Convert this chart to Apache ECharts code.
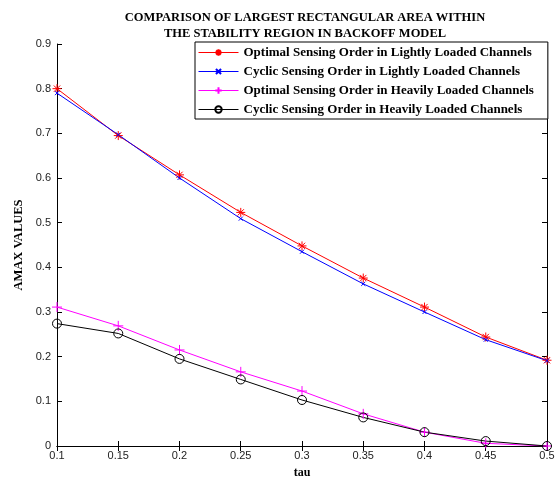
<!DOCTYPE html>
<html><head><meta charset="utf-8">
<script src="https://cdn.jsdelivr.net/npm/echarts@6/dist/echarts.min.js"></script>
<style>html,body{margin:0;padding:0;background:#fff}#c{width:560px;height:484px}</style>
</head><body><div id="c"></div>
<script>
var tau = [0.1, 0.15, 0.2, 0.25, 0.3, 0.35, 0.4, 0.45, 0.5];
var optLight = [0.800, 0.695, 0.607, 0.523, 0.448, 0.376, 0.311, 0.244, 0.192];
var cycLight = [0.790, 0.697, 0.600, 0.509, 0.435, 0.363, 0.300, 0.238, 0.191];
var optHeavy = [0.311, 0.269, 0.215, 0.166, 0.123, 0.072, 0.031, 0.006, 0.000];
var cycHeavy = [0.274, 0.252, 0.195, 0.149, 0.103, 0.064, 0.031, 0.011, 0.000];
var names = ['Optimal Sensing Order in Lightly Loaded Channels','Cyclic Sensing Order in Lightly Loaded Channels','Optimal Sensing Order in Heavily Loaded Channels','Cyclic Sensing Order in Heavily Loaded Channels'];
var colors = ['#ff0000', '#0000ff', '#ff00ff', '#000000'];
var titleText = 'COMPARISON OF LARGEST RECTANGULAR AREA WITHIN\nTHE STABILITY REGION IN BACKOFF MODEL';

function pairs(v){ return tau.map(function(t,i){ return [t, v[i]]; }); }
var STAR = 'path://M5,0L5,10M0,5L10,5M1.5,1.5L8.5,8.5M8.5,1.5L1.5,8.5';
var XMK = 'path://M1,1L9,9M9,1L1,9M0,0L0,0.01M10,10L10,10.01';
var PLUS = 'path://M5,0L5,10M0,5L10,5';
var CIRC = 'path://M10,5A5,5,0,1,1,0,5A5,5,0,1,1,10,5Z';
var symbols = [STAR, XMK, PLUS, CIRC];
function ser(i, data, size){
  var color = colors[i];
  return {name:names[i], type:'line', data:pairs(data), symbol:symbols[i], symbolSize:size,
    lineStyle:{color:color, width:1},
    itemStyle:{color: i === 3 ? 'none' : color, borderColor:color, borderWidth:1},
    z: 3};
}
var chart = echarts.init(document.getElementById('c'), null, {renderer:'canvas'});
var fmt = function(v){ return String(+v.toFixed(2)); };
chart.setOption({
  animation:false,
  color: colors,
  backgroundColor:'#fff',
  title:{text:titleText, left:300, top:5, textAlign:'center',
    textStyle:{fontFamily:'Liberation Serif', fontWeight:'bold', fontSize:12.5, lineHeight:16, color:'#000'}},
  legend:{orient:'vertical', left:195, top:42, padding:[4,14,3,3], itemGap:6, itemWidth:40, itemHeight:8,
    backgroundColor:'#fff', borderColor:'#000', borderWidth:1, z:10,
    lineStyle:{width:1},
    data: names,
    textStyle:{fontFamily:'Liberation Serif', fontWeight:'bold', fontSize:13, color:'#000'}},
  grid:{left:57, right:13, top:44, bottom:32, containLabel:false},
  xAxis:[{type:'value', min:0.1, max:0.5, interval:0.05, position:'bottom',
      name:'tau', nameLocation:'middle', nameGap:21,
      nameTextStyle:{fontFamily:'Liberation Serif', fontWeight:'bold', fontSize:12, color:'#000'},
      axisLine:{lineStyle:{color:'#000', width:1}}, axisTick:{inside:true, length:5, lineStyle:{color:'#000'}},
      axisLabel:{formatter:fmt, fontFamily:'Liberation Sans', fontSize:11, color:'#222', margin:4}, splitLine:{show:false}},
    {type:'value', min:0.1, max:0.5, interval:0.05, position:'top',
      axisLine:{lineStyle:{color:'#000', width:1}}, axisTick:{inside:true, length:5, lineStyle:{color:'#000'}},
      axisLabel:{show:false}, splitLine:{show:false}}],
  yAxis:[{type:'value', min:0, max:0.9, interval:0.1, position:'left',
      name:'AMAX VALUES', nameLocation:'middle', nameGap:31,
      nameTextStyle:{fontFamily:'Liberation Serif', fontWeight:'bold', fontSize:12.5, color:'#000'},
      axisLine:{show:true, lineStyle:{color:'#000', width:1}}, axisTick:{show:true, inside:true, length:5, lineStyle:{color:'#000'}},
      axisLabel:{formatter:fmt, fontFamily:'Liberation Sans', fontSize:11, color:'#222', margin:6}, splitLine:{show:false}},
    {type:'value', min:0, max:0.9, interval:0.1, position:'right',
      axisLine:{show:true, lineStyle:{color:'#000', width:1}}, axisTick:{show:true, inside:true, length:5, lineStyle:{color:'#000'}},
      axisLabel:{show:false}, splitLine:{show:false}}],
  series:[
    ser(0, optLight, 9),
    ser(1, cycLight, 5),
    ser(2, optHeavy, 10),
    ser(3, cycHeavy, 9)
  ]
});
</script></body></html>
